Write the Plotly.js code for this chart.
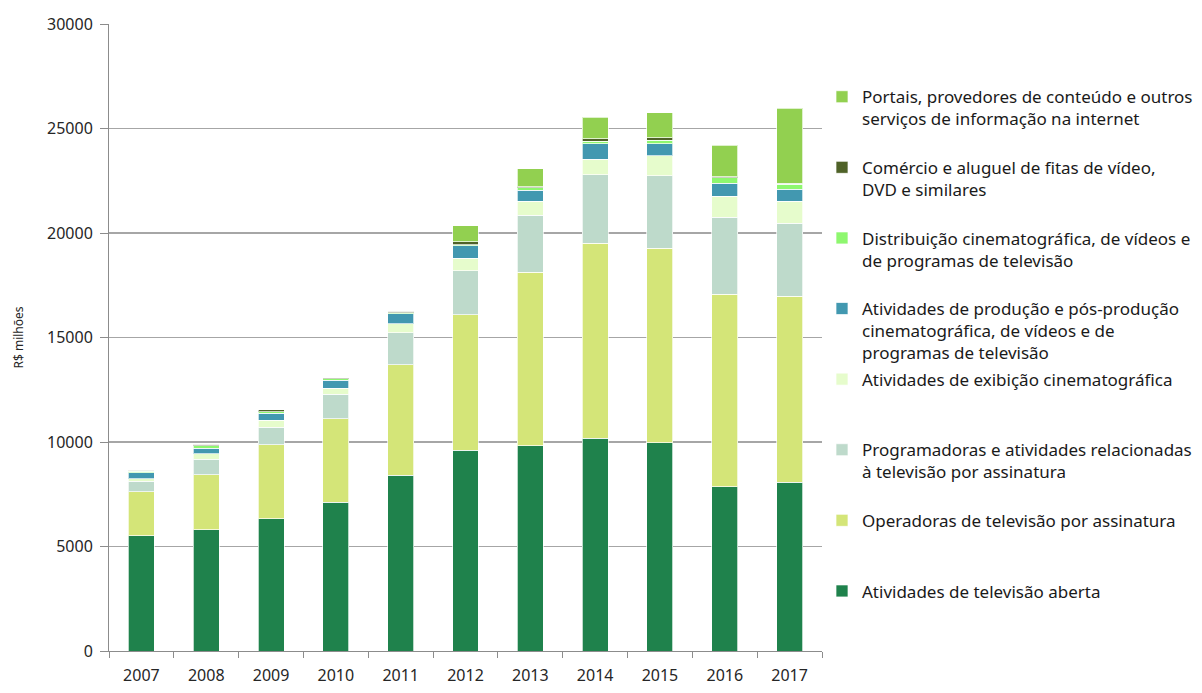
<!DOCTYPE html>
<html>
<head>
<meta charset="utf-8">
<script src="https://cdn.plot.ly/plotly-3.0.1.min.js"></script>
<style>html,body{margin:0;padding:0;background:#fff;}#chart{width:1202px;height:693px;}</style>
</head>
<body>
<div id="chart"></div>
<script>
const years = ["2007","2008","2009","2010","2011","2012","2013","2014","2015","2016","2017"];

const aberta        = [5520, 5810, 6320, 7120, 8410, 9610, 9830, 10170, 9960, 7850, 8070];
const operadoras    = [2110, 2620, 3550, 3990, 5280, 6480, 8300, 9340, 9310, 9210, 8910];
const programadoras = [490, 750, 840, 1180, 1530, 2110, 2720, 3270, 3460, 3690, 3480];
const exibicao      = [130, 250, 320, 290, 450, 600, 680, 750, 960, 1020, 1070];
const producao      = [290, 270, 350, 380, 460, 580, 520, 730, 570, 610, 560];
const distribuicao  = [60, 130, 70, 70, 60, 60, 110, 130, 180, 260, 240];
const comercio      = [50, 60, 90, 45, 65, 130, 60, 110, 110, 40, 60];
const portais       = [30, 20, 15, 10, 20, 780, 860, 1030, 1200, 1530, 3580];

const seriesNames = [
  "Atividades de televisão aberta<br> <br> ",
  "Operadoras de televisão por assinatura<br> <br> ",
  "Programadoras e atividades relacionadas<br>à televisão por assinatura<br> ",
  "Atividades de exibição cinematográfica<br> <br> ",
  "Atividades de produção e pós-produção<br>cinematográfica, de vídeos e de<br>programas de televisão",
  "Distribuição cinematográfica, de vídeos e<br>de programas de televisão<br> ",
  "Comércio e aluguel de fitas de vídeo,<br>DVD e similares<br> ",
  "Portais, provedores de conteúdo e outros<br>serviços de informação na internet<br> "
];
const seriesValues = [aberta, operadoras, programadoras, exibicao, producao, distribuicao, comercio, portais];
const seriesColors = ["#1f824c", "#d4e578", "#bedacb", "#e6fccc", "#4298b0", "#8ef76f", "#4f6228", "#92d050"];

const traces = seriesValues.map((vals, i) => ({
  type: "bar",
  x: years,
  y: vals,
  name: seriesNames[i],
  legendgroup: "g" + i,
  legendrank: 1000 - i * 10,
  marker: {color: seriesColors[i], line: {color: "rgba(255,255,255,0.7)", width: 1}},
  hoverinfo: "x+y"
}));

const font = "'Noto Sans', 'Open Sans', sans-serif";

const layout = {
  width: 1202,
  height: 693,
  margin: {l: 109, r: 380, t: 24, b: 42, autoexpand: false},
  barmode: "stack",
  bargap: 0.6,
  paper_bgcolor: "#ffffff",
  plot_bgcolor: "#ffffff",
  font: {family: font, size: 16, color: "#262626"},
  showlegend: true,
  legend: {
    x: 1.0, xanchor: "left",
    y: 0.912, yanchor: "top",
    traceorder: "grouped",
    valign: "top",
    tracegroupgap: 1.3,
    font: {family: font, size: 17, color: "#1a1a1a"},
    bgcolor: "rgba(0,0,0,0)"
  },
  xaxis: {
    type: "category",
    showline: true,
    linecolor: "#8c8c8c",
    linewidth: 1,
    ticks: "outside",
    tickson: "boundaries",
    ticklen: 6,
    tickcolor: "#8c8c8c",
    ticklabelstandoff: 10,
    showgrid: false,
    tickfont: {family: font, size: 16, color: "#262626"}
  },
  yaxis: {
    range: [0, 30000],
    dtick: 5000,
    tickformat: "d",
    showline: true,
    linecolor: "#8c8c8c",
    linewidth: 1,
    ticks: "outside",
    ticklen: 8,
    tickcolor: "#8c8c8c",
    showgrid: true,
    gridcolor: "#a6a6a6",
    gridwidth: 1.3,
    zeroline: false,
    ticklabelstandoff: 4,
    tickfont: {family: font, size: 16, color: "#262626"},
    title: {text: "R$ milhões", font: {family: font, size: 12, color: "#262626"}, standoff: 20}
  }
};

Plotly.newPlot("chart", traces, layout, {displayModeBar: false, staticPlot: true});
</script>
</body>
</html>
